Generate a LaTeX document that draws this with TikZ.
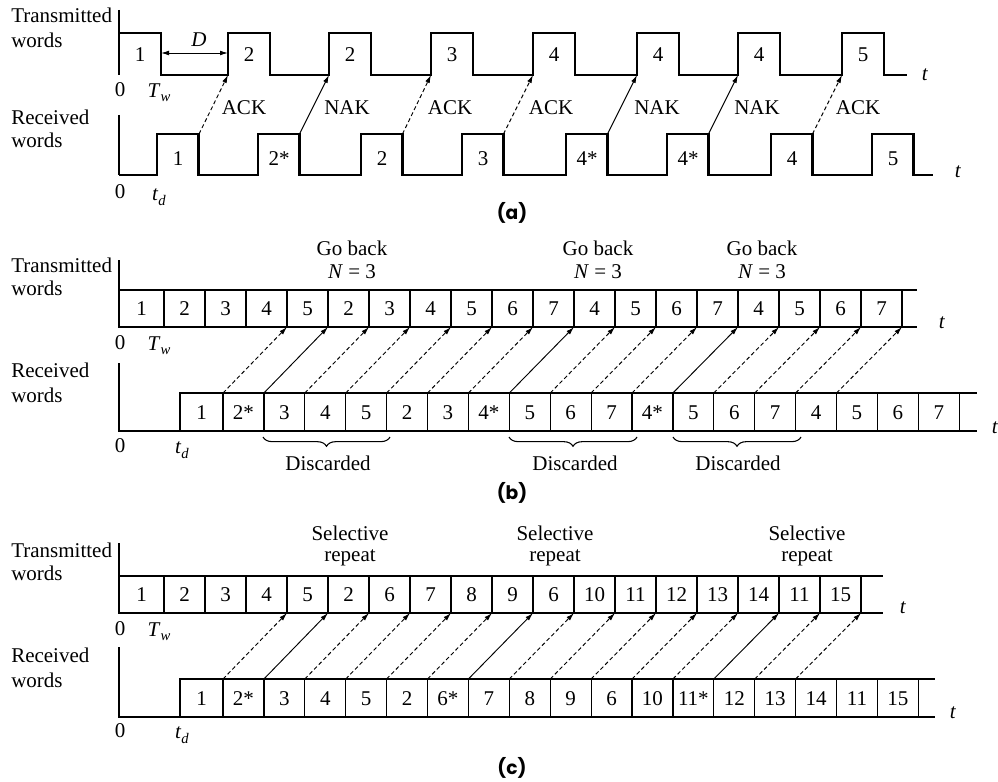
\documentclass[tikz,border=0pt]{standalone}
\usepackage{fontspec}
\setmainfont{Liberation Serif}
\newfontfamily\capfont{Poppins}
\usetikzlibrary{arrows.meta,decorations.pathreplacing}
\newcommand{\subx}[1]{\raisebox{-0.45ex}{\fontsize{11}{11}\selectfont\textit{#1}}}
\begin{document}
\begin{tikzpicture}[x=0.75pt,y=-0.75pt,
  font=\fontsize{15.75}{18}\selectfont,
  thk/.style={line width=2.1pt},
  thn/.style={line width=0.9pt},
  ack/.style={line width=0.7pt,dash pattern=on 3pt off 2pt,-{Latex[length=6pt,width=3.6pt]}},
  nak/.style={line width=0.7pt,-{Latex[length=6pt,width=3.6pt]}},
  lbl/.style={inner sep=0pt,anchor=west},
  txt/.style={inner sep=0pt},
  figcap/.style={inner sep=0pt,font=\capfont\bfseries\fontsize{14}{16}\selectfont},
  brc/.style={decorate,decoration={brace,mirror,amplitude=7pt},line width=0.8pt}]
\useasboundingbox (0,0) rectangle (998,781);

% ================= (a) =================
\node[lbl] (aTl1) at (11,15) {Transmitted};
\node[lbl] (aTl2) at (11,40) {words};
\node[lbl] (aRl1) at (11,117) {Received};
\node[lbl] (aRl2) at (11,140) {words};
\draw[thn] (119,10) -- (119,75);
\draw[thk] (119,33) -- (161,33) -- (161,75)
  foreach \s in {228,329,431,533,637,738,842}{ -- (\s,75) -- (\s,33) -- (\s+42,33) -- (\s+42,75)} -- (907,75);
\foreach \s/\v [count=\i] in {119/1,228/2,329/2,431/3,533/4,637/4,738/4,842/5}
  \node[txt] (aTn\i) at (\s+21,55) {\v};
\draw[thn] (119,115) -- (119,175);
\draw[thk] (119,175)
  foreach \s in {157,258,361,462,566,667,771,872}{ -- (\s,175) -- (\s,134) -- (\s+41.5,134) -- (\s+41.5,175)} -- (933,175);
\foreach \s/\v [count=\i] in {157/1,258/2*,361/2,462/3,566/4*,667/4*,771/4,872/5}
  \node[txt] (aRn\i) at (\s+21,159) {\v};
\coordinate (aD1) at (161,53);
\coordinate (aD2) at (228,53);
\draw[line width=0.7pt,{Latex[length=6pt,width=3.6pt]}-{Latex[length=6pt,width=3.6pt]}] (aD1) -- (aD2);
\node[txt] (aDl) at (199,40) {\textit{D}};
\foreach \re/\ts/\ty/\lx/\lt [count=\i] in {199/228/ack/244/ACK,299.5/329/nak/347/NAK,402.5/431/ack/450/ACK,503.5/533/ack/551/ACK,607.5/637/nak/657/NAK,708.5/738/nak/757/NAK,812.5/842/ack/858/ACK}{
  \coordinate (aRe\i) at (\re,134);
  \coordinate (aTs\i) at (\ts,75);
  \draw[\ty] (aRe\i) -- (aTs\i);
  \node[txt] (aL\i) at (\lx,108) {\lt};
}
\node[txt] (aZ1) at (120,90) {0};
\node[txt] (aTw) at (159,93) {\textit{T}\subx{w}};
\node[txt] (aZ2) at (120,192) {0};
\node[txt] (atd) at (159,197) {\textit{t}\subx{d}};
\node[txt] (at1) at (925,75) {\textit{t}};
\node[txt] (at2) at (958,172) {\textit{t}};
\node[figcap] (capa) at (512,213) {(a)};

% ================= (b) =================
\node[lbl] (bTl1) at (11,265) {Transmitted};
\node[lbl] (bTl2) at (11,288) {words};
\node[lbl] (bRl1) at (11,370) {Received};
\node[lbl] (bRl2) at (11,395) {words};
\draw[thn] (119,260) -- (119,327) -- (917,327);
\draw[thk] (119,290) -- (917,290);
\foreach \v [count=\k] in {1,2,3,4,5,2,3,4,5,6,7,4,5,6,7,4,5,6,7}{
  \pgfmathsetmacro\xl{\k==1 ? 119 : 164+41*(\k-2)}
  \pgfmathsetmacro\xr{164+41*(\k-1)}
  \draw[thn] (\xr,290) -- (\xr,327);
  \coordinate (bT\k) at (\xr,327);
  \node[txt] (bTn\k) at ({(\xl+\xr)/2},309) {\v};
}
\draw[thn] (119,363) -- (119,431) -- (977,431);
\draw[thk] (180,431) -- (180,393) -- (977,393);
\foreach \v [count=\k] in {1,2*,3,4,5,2,3,4*,5,6,7,4*,5,6,7,4,5,6,7}{
  \pgfmathsetmacro\xl{\k==1 ? 180 : 223+40.9*(\k-2)}
  \pgfmathsetmacro\xr{223+40.9*(\k-1)}
  \draw[thn] (\xr,393) -- (\xr,431);
  \coordinate (bR\k) at (\xr,393);
  \node[txt] (bRn\k) at ({(\xl+\xr)/2},413) {\v};
}
\foreach \k/\m/\ty in {1/4/ack,2/5/nak,3/6/ack,4/7/ack,5/8/ack,6/9/ack,7/10/ack,8/11/nak,9/12/ack,10/13/ack,11/14/ack,12/15/nak,13/16/ack,14/17/ack,15/18/ack,16/19/ack}
  \draw[\ty] (bR\k) -- (bT\m);
\foreach \x [count=\i] in {352,598,762}{
  \node[txt] (bG\i) at (\x,248) {Go back};
  \node[txt] (bN\i) at (\x,272) {\textit{N} = 3};
}
\foreach \a/\b/\c [count=\i] in {263/390/328,509/637/575,673/801/738}{
  \coordinate (bBa\i) at (\a,437);
  \coordinate (bBb\i) at (\b,437);
  \draw[brc] (bBa\i) -- (bBb\i);
  \node[txt] (bD\i) at (\c,463) {Discarded};
}
\node[txt] (bZ1) at (120,343) {0};
\node[txt] (bTw) at (159,346) {\textit{T}\subx{w}};
\node[txt] (bZ2) at (120,446) {0};
\node[txt] (btd) at (182,450) {\textit{t}\subx{d}};
\node[txt] (bt1) at (942,323) {\textit{t}};
\node[txt] (bt2) at (995,428) {\textit{t}};
\node[figcap] (capb) at (512,493) {(b)};

% ================= (c) =================
\node[lbl] (cTl1) at (11,550) {Transmitted};
\node[lbl] (cTl2) at (11,573) {words};
\node[lbl] (cRl1) at (11,655) {Received};
\node[lbl] (cRl2) at (11,680) {words};
\draw[thn] (119,543) -- (119,613) -- (883,613);
\draw[thk] (119,576) -- (883,576);
\foreach \v [count=\k] in {1,2,3,4,5,2,6,7,8,9,6,10,11,12,13,14,11,15}{
  \pgfmathsetmacro\xl{\k==1 ? 119 : 164+41*(\k-2)}
  \pgfmathsetmacro\xr{164+41*(\k-1)}
  \draw[thn] (\xr,576) -- (\xr,613);
  \coordinate (cT\k) at (\xr,613);
  \node[txt] (cTn\k) at ({(\xl+\xr)/2},595) {\v};
}
\draw[thn] (119,647) -- (119,717) -- (935,717);
\draw[thk] (119,717) -- (180,717) -- (180,679) -- (935,679);
\foreach \v [count=\k] in {1,2*,3,4,5,2,6*,7,8,9,6,10,11*,12,13,14,11,15}{
  \pgfmathsetmacro\xl{\k==1 ? 180 : 223+40.9*(\k-2)}
  \pgfmathsetmacro\xr{223+40.9*(\k-1)}
  \draw[thn] (\xr,679) -- (\xr,717);
  \coordinate (cR\k) at (\xr,679);
  \node[txt] (cRn\k) at ({(\xl+\xr)/2},699) {\v};
}
\foreach \k/\m/\ty in {1/4/ack,2/5/nak,3/6/ack,4/7/ack,5/8/ack,6/9/ack,7/10/nak,8/11/ack,9/12/ack,10/13/ack,11/14/ack,12/15/ack,13/16/nak,14/17/ack,15/18/ack}
  \draw[\ty] (cR\k) -- (cT\m);
\foreach \x [count=\i] in {350,555,807}{
  \node[txt] (cS\i) at (\x,533) {Selective};
  \node[txt] (cP\i) at (\x,558) {repeat};
}
\node[txt] (cZ1) at (120,629) {0};
\node[txt] (cTw) at (159,632) {\textit{T}\subx{w}};
\node[txt] (cZ2) at (120,731) {0};
\node[txt] (ctd) at (182,735) {\textit{t}\subx{d}};
\node[txt] (ct1) at (903,608) {\textit{t}};
\node[txt] (ct2) at (953,713) {\textit{t}};
\node[figcap] (capc) at (512,768) {(c)};
\end{tikzpicture}
\end{document}
